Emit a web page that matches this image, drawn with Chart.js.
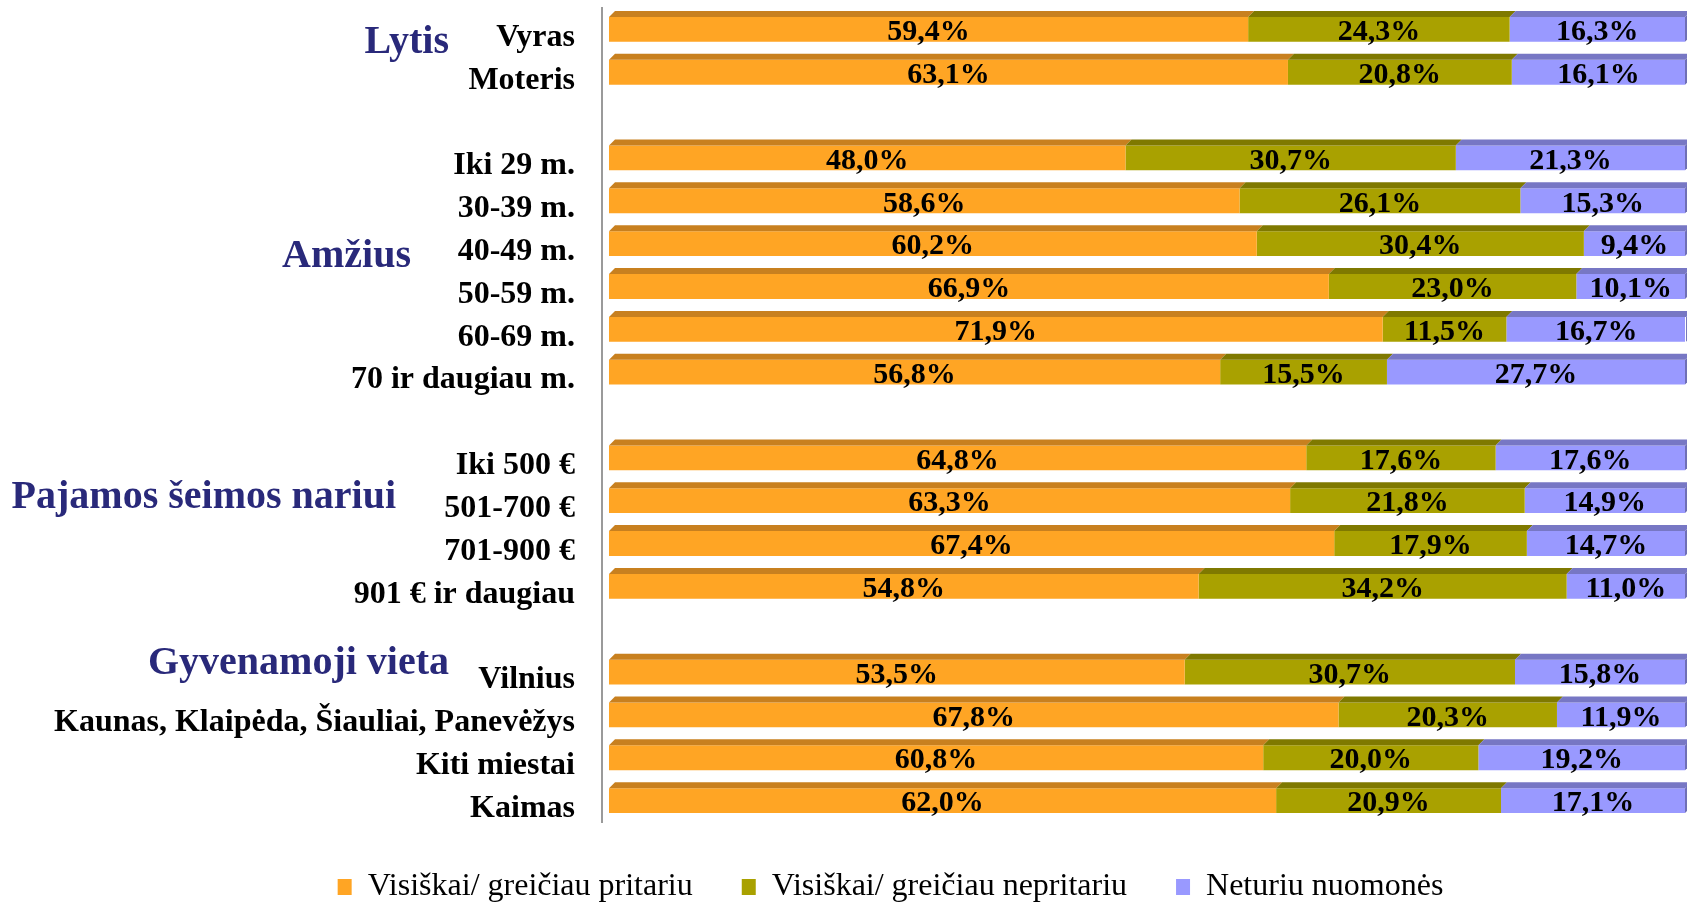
<!DOCTYPE html>
<html lang="lt">
<head>
  <meta charset="UTF-8">
  <title>Pritarimas pagal grupes</title>
  <script src="https://cdn.jsdelivr.net/npm/chart.js"></script>
  <style>
    body {
      margin: 0;
      background: #fff;
      overflow: hidden;
    }
    .wrap {
      width: 1687px;
      height: 913px;
    }
  </style>
</head>
<body>
  <div class="wrap">
    <canvas id="chart"></canvas>
  </div>
  <script>
    // tuščios eilutės ('') atskiria grupes
    const categories = [
      'Vyras', 'Moteris', '',
      'Iki 29 m.', '30-39 m.', '40-49 m.', '50-59 m.', '60-69 m.', '70 ir daugiau m.', '',
      'Iki 500 €', '501-700 €', '701-900 €', '901 € ir daugiau', '',
      'Vilnius', 'Kaunas, Klaipėda, Šiauliai, Panevėžys', 'Kiti miestai', 'Kaimas'
    ];
    const agree = [59.4, 63.1, null, 48.0, 58.6, 60.2, 66.9, 71.9, 56.8, null, 64.8, 63.3, 67.4, 54.8, null, 53.5, 67.8, 60.8, 62.0];
    const disagree = [24.3, 20.8, null, 30.7, 26.1, 30.4, 23.0, 11.5, 15.5, null, 17.6, 21.8, 17.9, 34.2, null, 30.7, 20.3, 20.0, 20.9];
    const noOpinion = [16.3, 16.1, null, 21.3, 15.3, 9.4, 10.1, 16.7, 27.7, null, 17.6, 14.9, 14.7, 11.0, null, 15.8, 11.9, 19.2, 17.1];
    const seriesNames = ['Visiškai/ greičiau pritariu', 'Visiškai/ greičiau nepritariu', 'Neturiu nuomonės'];

    // grupių pavadinimai ir jų vieta (eilutės indeksas)
    const groupNames = ['Lytis', 'Amžius', 'Pajamos šeimos nariui', 'Gyvenamoji vieta'];
    const groupRows = [0.3, 5.3, 10.93, 14.8];
    const groupRight = [449, 411, 396, 449];

    const frontColors = ['#FFA524', '#A9A100', '#9999FF'];
    const topColors = ['#C8801F', '#7F7900', '#7777C4'];
    const sideColor = '#6F6FB5';
    const depth = 6;
    const serif = "'Liberation Serif', 'Times New Roman', serif";

    const bar3d = {
      id: 'bar3d',
      afterLayout(chart) {
        // ašies užrašai neturi būti apkarpyti ties kairiuoju atitraukimu
        chart.scales.y.left = 0;
      },
      afterDatasetsDraw(chart) {
        const ctx = chart.ctx;
        const last = chart.data.datasets.length - 1;
        ctx.save();
        chart.data.datasets.forEach((ds, i) => {
          chart.getDatasetMeta(i).data.forEach((bar, j) => {
            if (ds.data[j] == null) return;
            const top = bar.y - bar.height / 2;
            const bottom = bar.y + bar.height / 2;
            ctx.fillStyle = topColors[i];
            ctx.beginPath();
            ctx.moveTo(bar.base, top);
            ctx.lineTo(bar.base + depth, top - depth);
            ctx.lineTo(bar.x + depth, top - depth);
            ctx.lineTo(bar.x, top);
            ctx.closePath();
            ctx.fill();
            if (i === last) {
              ctx.fillStyle = sideColor;
              ctx.beginPath();
              ctx.moveTo(bar.x, top);
              ctx.lineTo(bar.x + depth, top - depth);
              ctx.lineTo(bar.x + depth, bottom - depth);
              ctx.lineTo(bar.x, bottom);
              ctx.closePath();
              ctx.fill();
            }
          });
        });

        // reikšmės
        ctx.fillStyle = '#000';
        ctx.font = 'bold 30px ' + serif;
        ctx.textAlign = 'center';
        ctx.textBaseline = 'middle';
        chart.data.datasets.forEach((ds, i) => {
          chart.getDatasetMeta(i).data.forEach((bar, j) => {
            const v = ds.data[j];
            if (v == null) return;
            ctx.fillText(v.toFixed(1).replace('.', ',') + '%', (bar.base + bar.x) / 2, bar.y + 3);
          });
        });

        // grupių pavadinimai
        const y = chart.scales.y;
        ctx.fillStyle = '#29297A';
        ctx.font = 'bold 40px ' + serif;
        ctx.textAlign = 'right';
        groupNames.forEach((name, k) => {
          ctx.fillText(name, groupRight[k], y.getPixelForValue(groupRows[k]));
        });
        ctx.restore();
      }
    };

    new Chart(document.getElementById('chart'), {
      type: 'bar',
      data: {
        labels: categories,
        datasets: [
          { label: seriesNames[0], data: agree, backgroundColor: frontColors[0] },
          { label: seriesNames[1], data: disagree, backgroundColor: frontColors[1] },
          { label: seriesNames[2], data: noOpinion, backgroundColor: frontColors[2] }
        ]
      },
      options: {
        indexAxis: 'y',
        responsive: true,
        maintainAspectRatio: false,
        animation: false,
        barPercentage: 0.58,
        categoryPercentage: 1,
        borderWidth: 0,
        layout: { padding: { left: 96, right: 2, top: 8, bottom: 0 } },
        scales: {
          x: { stacked: true, display: false, min: -0.65, max: 100 },
          y: {
            stacked: true,
            grid: { display: false, drawTicks: false },
            border: { display: true, color: '#9a9a9a', width: 2 },
            ticks: {
              color: '#000',
              padding: 27,
              labelOffset: 8,
              font: { family: serif, size: 32, weight: 'bold' }
            },
            afterFit(scale) {
              scale.width = 506;
              scale.paddingTop = 0;
              scale.paddingBottom = 0;
            }
          }
        },
        plugins: {
          tooltip: { enabled: false },
          legend: {
            position: 'bottom',
            labels: {
              color: '#000',
              boxWidth: 14,
              boxHeight: 16,
              padding: 49,
              font: { family: serif, size: 32 }
            }
          }
        }
      },
      plugins: [bar3d]
    });
  </script>
</body>
</html>
